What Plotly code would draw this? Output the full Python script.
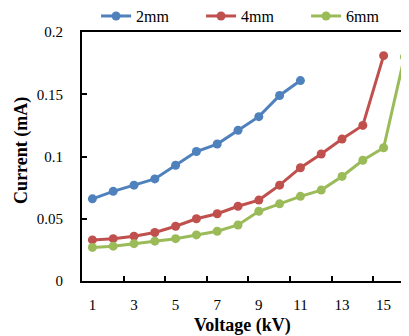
import plotly.graph_objects as go

voltage_categories = list(range(1, 17))
x_tick_labels = ["1", "3", "5", "7", "9", "11", "13", "15"]
y_tick_labels = ["0", "0.05", "0.1", "0.15", "0.2"]

current_2mm = [0.066, 0.072, 0.077, 0.082, 0.093, 0.104, 0.110, 0.121, 0.132, 0.149, 0.161]
current_4mm = [0.033, 0.034, 0.036, 0.039, 0.044, 0.050, 0.054, 0.060, 0.065, 0.077, 0.091,
               0.102, 0.114, 0.125, 0.181]
current_6mm = [0.027, 0.028, 0.030, 0.032, 0.034, 0.037, 0.040, 0.045, 0.056, 0.062, 0.068,
               0.073, 0.084, 0.097, 0.107, 0.180]

series = [
    ("2mm", current_2mm, "#4F81BD"),
    ("4mm", current_4mm, "#C0504D"),
    ("6mm", current_6mm, "#9BBB59"),
]

serif = "Liberation Serif"

fig = go.Figure()
for name, vals, color in series:
    fig.add_trace(go.Scatter(
        x=voltage_categories[:len(vals)], y=vals, name=name,
        mode="lines+markers",
        line=dict(color=color, width=3),
        marker=dict(color=color, size=9),
        cliponaxis=False,
    ))

# invisible trace on overlaid axis to show category-boundary ticks
fig.add_trace(go.Scatter(x=[1], y=[0], xaxis="x2", showlegend=False,
                         mode="markers", marker=dict(opacity=0), hoverinfo="skip"))

fig.update_layout(
    width=401, height=328,
    margin=dict(l=74, r=0, t=24, b=55, autoexpand=False),
    paper_bgcolor="white", plot_bgcolor="white",
    font=dict(family=serif, size=15, color="black"),
    showlegend=True,
    legend=dict(orientation="h", x=0.043, xanchor="left", y=1.064, yanchor="middle",
                font=dict(family=serif, size=16), entrywidth=60, itemwidth=30,
                bgcolor="rgba(0,0,0,0)"),
    xaxis=dict(range=[0.5, 16.22], tickvals=[1, 3, 5, 7, 9, 11, 13, 15],
               ticktext=x_tick_labels, ticks="", showgrid=False, zeroline=False,
               showline=True, linecolor="black", linewidth=2, mirror=True,
               tickfont=dict(family=serif, size=15), ticklabelstandoff=9),
    xaxis2=dict(range=[0.5, 16.22], overlaying="x", side="bottom",
                tickvals=[2.5, 4.5, 6.5, 8.5, 10.5, 12.5, 14.5], showticklabels=False,
                ticks="inside", ticklen=5, tickwidth=2, tickcolor="black",
                showgrid=False, zeroline=False, showline=False),
    yaxis=dict(range=[0, 0.2], tickvals=[0, 0.05, 0.1, 0.15, 0.2], ticktext=y_tick_labels,
               ticks="inside", ticklen=5, tickwidth=2, tickcolor="black",
               showgrid=False, zeroline=False, showline=True, linecolor="black",
               linewidth=2, mirror=False, tickfont=dict(family=serif, size=15),
               ticklabelstandoff=14),
    annotations=[
        dict(text="<b>Voltage (kV)</b>", xref="paper", yref="paper", x=0.49, y=-0.177,
             xanchor="center", yanchor="middle", showarrow=False,
             font=dict(family=serif, size=18)),
        dict(text="<b>Current (mA)</b>", xref="paper", yref="paper", x=-0.187, y=0.526,
             xanchor="center", yanchor="middle", showarrow=False, textangle=-90,
             font=dict(family=serif, size=18)),
    ],
)

fig.write_html("out.html")
